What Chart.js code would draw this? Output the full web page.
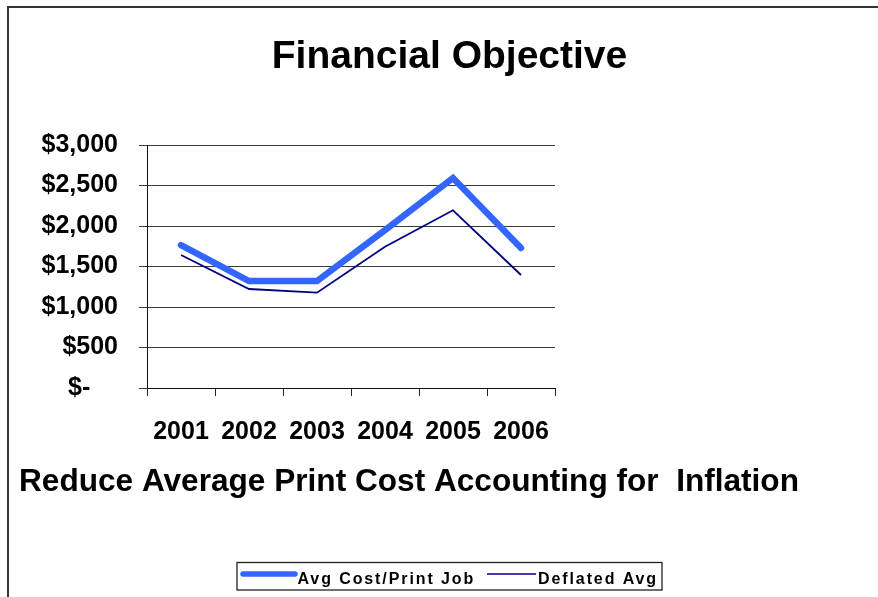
<!DOCTYPE html>
<html>
<head>
<meta charset="utf-8">
<script src="https://cdn.jsdelivr.net/npm/chart.js@4/dist/chart.umd.min.js"></script>
<style>
  html, body { margin: 0; padding: 0; background: #fff; }
  #wrap { position: relative; width: 878px; height: 597px; }
</style>
</head>
<body>
<div id="wrap"><canvas id="c" width="878" height="597"></canvas></div>
<script>
const years = ['2001', '2002', '2003', '2004', '2005', '2006'];
const avgCostPerJob = [1765, 1321, 1321, 1950, 2593, 1728];
const deflatedAvg = [1642, 1222, 1177, 1744, 2194, 1395];
const seriesNames = ['Avg Cost/Print Job', 'Deflated Avg'];
const chartTitle = 'Financial Objective';
const chartSubtitle = 'Reduce Average Print Cost Accounting for  Inflation';
const yMin = 0, yMax = 3000, yStep = 500;

const FONT = '"Liberation Sans", Arial, sans-serif';

const decor = {
  id: 'decor',
  afterDraw(chart) {
    const ctx = chart.ctx;
    ctx.save();
    // open frame (left + top)
    ctx.strokeStyle = '#333';
    ctx.lineWidth = 2;
    ctx.beginPath();
    ctx.moveTo(8, 597);
    ctx.lineTo(8, 7);
    ctx.lineTo(878, 7);
    ctx.stroke();

    // title
    ctx.fillStyle = '#000';
    ctx.font = 'bold 39px ' + FONT;
    ctx.textAlign = 'center';
    ctx.textBaseline = 'alphabetic';
    ctx.fillText(chartTitle, 449.5, 67.5);

    // subtitle
    ctx.font = 'bold 31.6px ' + FONT;
    ctx.textAlign = 'left';
    ctx.fillText(chartSubtitle, 19, 491);

    // legend box
    ctx.strokeStyle = '#222';
    ctx.lineWidth = 1.3;
    ctx.strokeRect(237, 562.5, 425, 27.5);
    const ds = chart.data.datasets;
    const items = [
      { x1: 243, x2: 295, tx: 297.5 },
      { x1: 487, x2: 536, tx: 538 }
    ];
    ctx.font = 'bold 16px ' + FONT;
    if ('letterSpacing' in ctx) ctx.letterSpacing = '1.9px';
    items.forEach((it, i) => {
      const d = ds[i];
      ctx.strokeStyle = d.borderColor;
      ctx.lineWidth = i === 0 ? 5.5 : 1.7;
      ctx.lineCap = i === 0 ? 'round' : 'butt';
      ctx.beginPath();
      ctx.moveTo(it.x1, 574);
      ctx.lineTo(it.x2, 574);
      ctx.stroke();
      ctx.fillStyle = '#000';
      ctx.textAlign = 'left';
      ctx.textBaseline = 'alphabetic';
      ctx.fillText(d.label, it.tx, 584);
    });
    ctx.restore();
  }
};

new Chart(document.getElementById('c'), {
  type: 'line',
  data: {
    labels: years,
    datasets: [
      {
        label: seriesNames[0],
        data: avgCostPerJob,
        borderColor: '#3366FF',
        backgroundColor: '#3366FF',
        borderWidth: 6.5,
        pointRadius: 0,
        tension: 0,
        borderCapStyle: 'round',
        borderJoinStyle: 'miter',
        fill: false
      },
      {
        label: seriesNames[1],
        data: deflatedAvg,
        borderColor: '#000080',
        backgroundColor: '#000080',
        borderWidth: 1.8,
        pointRadius: 0,
        tension: 0,
        fill: false
      }
    ]
  },
  options: {
    responsive: false,
    animation: false,
    devicePixelRatio: 1,
    layout: { padding: { top: 145, left: 0, right: 323, bottom: 149 } },
    plugins: {
      legend: { display: false },
      title: { display: false },
      tooltip: { enabled: false }
    },
    scales: {
      x: {
        type: 'category',
        offset: true,
        grid: {
          offset: true,
          drawOnChartArea: false,
          drawTicks: true,
          tickLength: 8,
          color: '#222',
          lineWidth: 1
        },
        border: { display: true, color: '#111', width: 1 },
        ticks: {
          color: '#000',
          font: { family: FONT, size: 25, weight: 'bold' },
          padding: 21,
          maxRotation: 0,
          autoSkip: false
        },
        afterFit(scale) { scale.height = 60; }
      },
      y: {
        min: yMin,
        max: yMax,
        grid: {
          color: '#3a3a3a',
          lineWidth: 1,
          drawTicks: true,
          tickLength: 8
        },
        border: { display: true, color: '#111', width: 1 },
        ticks: {
          stepSize: yStep,
          color: '#000',
          font: { family: FONT, size: 25, weight: 'bold' },
          padding: 21,
          callback(v) {
            return v === 0 ? '$-    ' : '$' + Number(v).toLocaleString('en-US');
          }
        },
        afterFit(scale) { scale.width = 147; }
      }
    }
  },
  plugins: [decor]
});
</script>
</body>
</html>
